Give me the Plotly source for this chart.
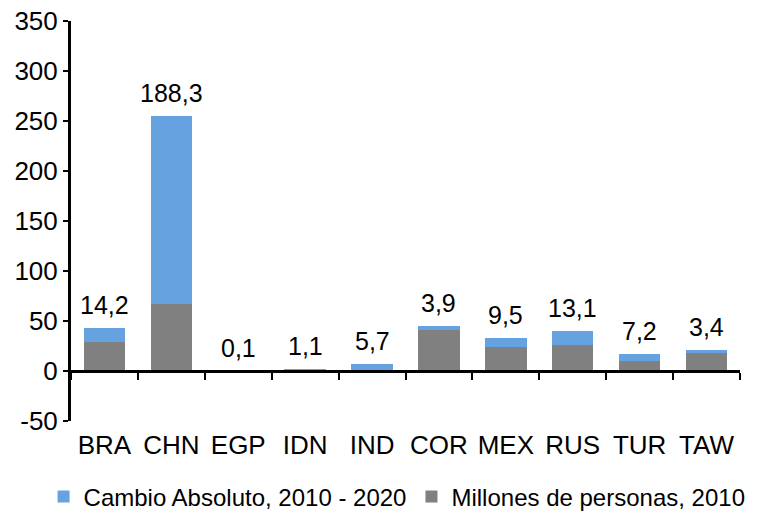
import plotly.graph_objects as go

categories = ["BRA", "CHN", "EGP", "IDN", "IND", "COR", "MEX", "RUS", "TUR", "TAW"]
millones_2010 = [29, 67, 0.2, 0.6, 1.2, 41, 24, 26.5, 10.3, 18]
cambio_abs = [14.2, 188.3, 0.1, 1.1, 5.7, 3.9, 9.5, 13.1, 7.2, 3.4]
y_ticks = [-50, 0, 50, 100, 150, 200, 250, 300, 350]
y_tick_labels = ["-50", "0", "50", "100", "150", "200", "250", "300", "350"]

BLUE = "#66A1E0"
GRAY = "#808080"
FONT = "Liberation Sans, Arial, sans-serif"

fig = go.Figure()
fig.add_trace(go.Bar(
    x=categories, y=millones_2010, name="Millones de personas, 2010",
    marker=dict(color=GRAY, line=dict(width=0)),
))
fig.add_trace(go.Bar(
    x=categories, y=cambio_abs, name="Cambio Absoluto, 2010 - 2020",
    marker=dict(color=BLUE, line=dict(width=0)),
))

for c, g, b in zip(categories, millones_2010, cambio_abs):
    fig.add_annotation(
        x=c, y=g + b, text=f"{b:.1f}".replace(".", ","),
        showarrow=False, yanchor="bottom", yshift=7,
        font=dict(size=25, color="black", family=FONT),
    )

fig.update_layout(
    width=769, height=514,
    margin=dict(l=71, r=29, t=21, b=93, autoexpand=False),
    paper_bgcolor="white", plot_bgcolor="white",
    barmode="stack", bargap=0.38,
    font=dict(family=FONT, size=26, color="black"),
    showlegend=True,
    legend=dict(
        orientation="h", x=-0.041, xanchor="left", y=-0.19, yanchor="middle",
        traceorder="reversed",
        font=dict(size=24, family=FONT), itemwidth=30, tracegroupgap=0,
        bgcolor="rgba(0,0,0,0)",
    ),
    xaxis=dict(
        anchor="free", position=0.125,
        showline=True, linecolor="black", linewidth=3,
        ticks="outside", tickson="boundaries", ticklen=7, tickwidth=2, tickcolor="black",
        ticklabelstandoff=50, tickfont=dict(size=26), tickangle=0,
        showgrid=False, zeroline=False, fixedrange=True,
    ),
    yaxis=dict(
        range=[-50, 350], tickvals=y_ticks, ticktext=y_tick_labels,
        showline=True, linecolor="black", linewidth=3,
        ticks="outside", ticklen=5, tickwidth=2, tickcolor="black",
        tickfont=dict(size=26), showgrid=False, zeroline=False, fixedrange=True,
    ),
)

fig.write_html(
    "out.html",
    config={"displayModeBar": False},
    post_script="document.body.style.margin='0';document.body.style.overflow='hidden';",
)
